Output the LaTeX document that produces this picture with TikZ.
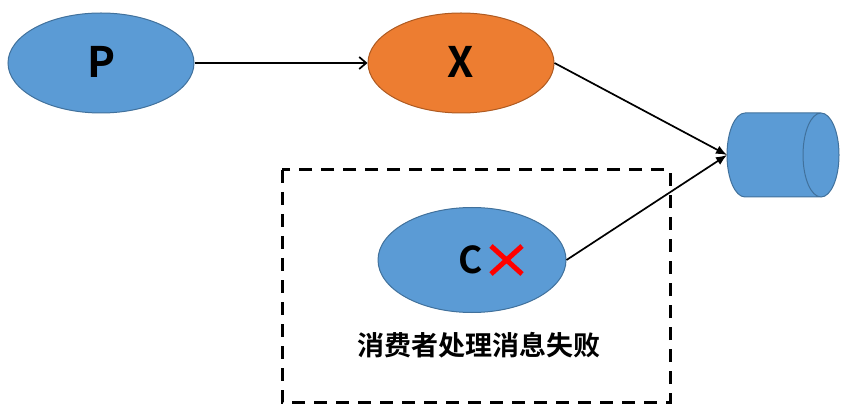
\documentclass[tikz,border=0pt]{standalone}
\usepackage{fontspec}
\setmainfont{Carlito}
\newfontfamily\cjk{Noto Sans CJK SC}[BoldFont={* Bold}]
\usetikzlibrary{arrows.meta,shapes.geometric}
\definecolor{fillblue}{HTML}{5B9BD5}
\definecolor{lineblue}{HTML}{41719C}
\definecolor{fillorange}{HTML}{ED7D31}
\definecolor{lineorange}{HTML}{AE5A21}
\begin{document}
\begin{tikzpicture}[x=1pt,y=-1pt,
  blueell/.style={ellipse, draw=lineblue, fill=fillblue, line width=1pt, minimum width=186pt, inner sep=0pt},
  orangeell/.style={ellipse, draw=lineorange, fill=fillorange, line width=1pt, minimum width=186pt, minimum height=100pt, inner sep=0pt},
  conn/.style={line width=1.7pt, black},
  bigletter/.style={font=\cjk\bfseries\fontsize{42}{42}\selectfont},
]
\useasboundingbox (0,0) rectangle (858,419);
\node[blueell, minimum height=100pt] (p) at (101,63) {};
\node[bigletter] (pt) at (102,62) {P};
\node[orangeell] (x) at (461,63) {};
\node[bigletter] (xt) at (461,62) {X};
\node[blueell, minimum height=105pt, minimum width=188pt] (c) at (472,260) {};
\node[font=\cjk\bfseries\fontsize{37}{37}\selectfont] (ct) at (471,260) {C};
\coordinate (xa) at (491,246);
\coordinate (xb) at (522,274);
\coordinate (xc) at (522,246);
\coordinate (xd) at (491,274);
\draw[red, line width=5pt] (xa) -- (xb) (xc) -- (xd);
% cylinder
\coordinate (dbl) at (727,155);
\fill[fillblue] (745,113) -- (821,113) arc[start angle=270, end angle=450, x radius=18, y radius=42] -- (745,197) arc[start angle=90, end angle=270, x radius=18, y radius=42] -- cycle;
\draw[lineblue, line width=1pt] (745,113) -- (821,113) arc[start angle=270, end angle=630, x radius=18, y radius=42] (821,197) -- (745,197) arc[start angle=90, end angle=270, x radius=18, y radius=42];
% dashed box
\draw[line width=3pt, dash pattern=on 13pt off 9pt] (282,170) rectangle (670,402);
\node[font=\cjk\bfseries\fontsize{27}{27}\selectfont] (lbl) at (479,345) {消费者处理消息失败};
% connectors
\draw[conn, -{Straight Barb[length=7pt,width=12pt]}] (p.east) -- (x.west);
\draw[conn, -{Latex[length=11pt,width=9pt]}] (x.east) -- (dbl);
\draw[conn, -{Latex[length=11pt,width=9pt]}] (c.east) -- (dbl);
\end{tikzpicture}
\end{document}
